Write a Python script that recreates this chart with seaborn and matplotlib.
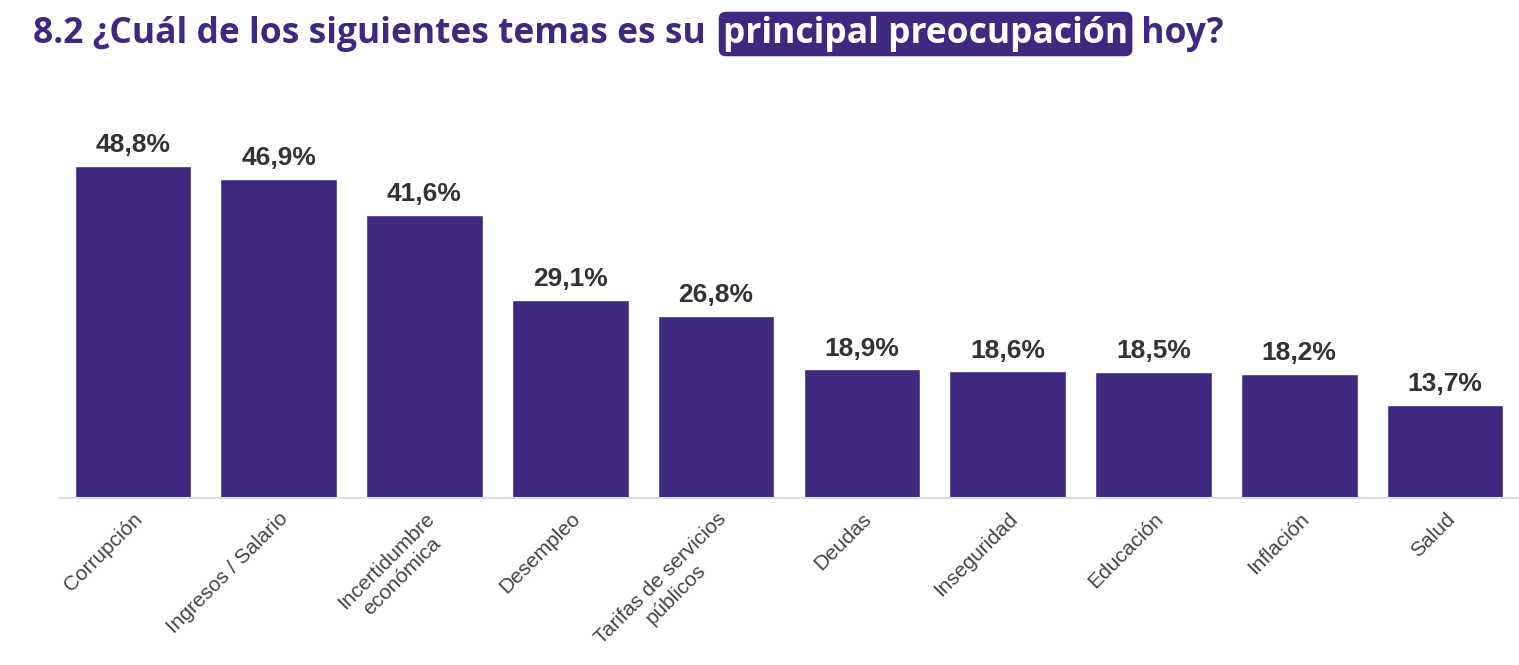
import matplotlib
matplotlib.use("Agg")
import matplotlib.pyplot as plt
import seaborn as sns
import pandas as pd

temas = ["Corrupción", "Ingresos / Salario", "Incertidumbre\neconómica", "Desempleo",
         "Tarifas de servicios\npúblicos", "Deudas", "Inseguridad", "Educación",
         "Inflación", "Salud"]
valores = [48.8, 46.9, 41.6, 29.1, 26.8, 18.9, 18.6, 18.5, 18.2, 13.7]

morado = "#3f2980"
df = pd.DataFrame({"tema": temas, "valor": valores})

sns.set_theme(style="white")
plt.rcParams['font.family'] = ['Liberation Sans', 'DejaVu Sans']

fig = plt.figure(figsize=(15.19, 6.65), dpi=100)
ax = fig.add_axes([60 / 1519, 1 - 498 / 665, 1458 / 1519, 398 / 665])
sns.barplot(data=df, x="tema", y="valor", color=morado, width=0.8, saturation=1, ax=ax)
ax.set_ylim(0, 58.5)
ax.set_xlim(-0.5, 9.5)
ax.set_xlabel("")
ax.set_ylabel("")
ax.set_yticks([])
for s in ["top", "right", "left"]:
    ax.spines[s].set_visible(False)
ax.spines["bottom"].set_color("#dddddd")
ax.spines["bottom"].set_linewidth(1.5)

for i, v in enumerate(valores):
    ax.text(i, v + 1.3, f"{v:.1f}%".replace(".", ","), ha="center", va="bottom",
            fontsize=19, fontweight="bold", color="#333333")

ax.set_xticks(range(len(temas)))
ax.set_xticklabels(temas, rotation=45, ha="right", rotation_mode="anchor",
                   fontsize=15, color="#444444", multialignment="center")
ax.tick_params(axis="x", length=0, pad=8)

# título con resaltado
fig.canvas.draw()
r = fig.canvas.get_renderer()
partes = [("8.2 ¿Cuál de los siguientes temas es su ", False),
          ("principal preocupación", True), (" hoy?", False)]
x = 33 / 1519
y = 1 - 34 / 665
for txt, resaltado in partes:
    kw = dict(fontsize=25.5, fontweight="bold", va="center", ha="left",
              family=["Open Sans", "DejaVu Sans"])
    if resaltado:
        x += 8 / 1519
        t = fig.text(x, y, txt, color="white",
                     bbox=dict(boxstyle="round,pad=0.12,rounding_size=0.2",
                               fc=morado, ec="none"), **kw)
    else:
        t = fig.text(x, y, txt, color=morado, **kw)
    bb = t.get_window_extent(r)
    x += bb.width / 1519 + (4 / 1519 if resaltado else 0)

fig.savefig("out.png", dpi=100)
